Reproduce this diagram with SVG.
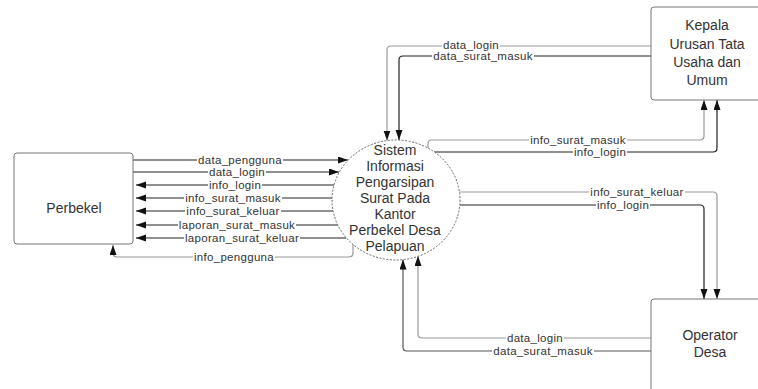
<svg xmlns="http://www.w3.org/2000/svg" width="758" height="389" viewBox="0 0 758 389">
<style>
.box{fill:#fff;stroke:#777;stroke-width:1}
.proc{fill:#fff;stroke:#666;stroke-width:1;stroke-dasharray:2 1.5}
.nt{font-family:"Liberation Sans",Arial,sans-serif;font-size:14px;fill:#333;text-anchor:middle}
.c{fill:none;stroke:#222;stroke-width:1.2}
.g{stroke:#9a9a9a}
.m{stroke:#555}
.bg{fill:#fff}
.lb{font-family:"Liberation Sans",Arial,sans-serif;font-size:11.5px;fill:#333;text-anchor:middle;letter-spacing:0.3px}
</style>
<defs>
<marker id="ah" markerUnits="userSpaceOnUse" markerWidth="10" markerHeight="8" refX="10" refY="3.5" orient="auto">
<path d="M0,0 L10,3.5 L0,7 z" fill="#111"/>
</marker>
</defs>
<rect width="758" height="389" fill="#fff"/>
<g id="connectors">
<path class="c" d="M133,160 L348,160" marker-end="url(#ah)"/>
<path class="c" d="M133,172 L339,172" marker-end="url(#ah)"/>
<path class="c" d="M334,185 L136,185" marker-end="url(#ah)"/>
<path class="c" d="M332,198 L136,198" marker-end="url(#ah)"/>
<path class="c" d="M333,211 L136,211" marker-end="url(#ah)"/>
<path class="c" d="M338,225 L136,225" marker-end="url(#ah)"/>
<path class="c" d="M346,238 L136,238" marker-end="url(#ah)"/>
<path class="c g" d="M353,244 L353,253 Q353,257 349,257 L117,257 Q113,257 113,253 L113,245" marker-end="url(#ah)"/>
<path class="c g" d="M651,46 L391,46 Q387,46 387,50 L387,140.5" marker-end="url(#ah)"/>
<path class="c" d="M651,56 L403,56 Q399,56 399,60 L399,140" marker-end="url(#ah)"/>
<path class="c g" d="M428,148 L428,144 Q428,140 432,140 L700,140 Q704,140 704,136 L704,100" marker-end="url(#ah)"/>
<path class="c" d="M434,152 L713,152 Q717,152 717,148 L717,100" marker-end="url(#ah)"/>
<path class="c g" d="M459,192 L713,192 Q717,192 717,196 L717,299" marker-end="url(#ah)"/>
<path class="c" d="M460,205 L700,205 Q704,205 704,209 L704,299" marker-end="url(#ah)"/>
<path class="c g" d="M651,338 L422,338 Q418,338 418,334 L418,256" marker-end="url(#ah)"/>
<path class="c m" d="M651,351 L407,351 Q403,351 403,347 L403,259.5" marker-end="url(#ah)"/>
<rect class="bg" x="197" y="156" width="86" height="8"/>
<rect class="bg" x="208" y="168" width="58" height="8"/>
<rect class="bg" x="208" y="181" width="54" height="8"/>
<rect class="bg" x="184" y="194" width="98" height="8"/>
<rect class="bg" x="185" y="207" width="96" height="8"/>
<rect class="bg" x="178" y="221" width="118" height="8"/>
<rect class="bg" x="184" y="234" width="116" height="8"/>
<rect class="bg" x="193" y="253" width="82" height="8"/>
<rect class="bg" x="442" y="42" width="58" height="8"/>
<rect class="bg" x="432" y="52" width="102" height="8"/>
<rect class="bg" x="529" y="136" width="98" height="8"/>
<rect class="bg" x="573" y="148" width="54" height="8"/>
<rect class="bg" x="589" y="188" width="96" height="8"/>
<rect class="bg" x="596" y="201" width="54" height="8"/>
<rect class="bg" x="506" y="334" width="58" height="8"/>
<rect class="bg" x="492" y="347" width="102" height="8"/>
<text class="lb" x="240" y="163.5">data_pengguna</text>
<text class="lb" x="237" y="175.5">data_login</text>
<text class="lb" x="235" y="188.5">info_login</text>
<text class="lb" x="233" y="201.5">info_surat_masuk</text>
<text class="lb" x="233" y="214.5">info_surat_keluar</text>
<text class="lb" x="237" y="228.5">laporan_surat_masuk</text>
<text class="lb" x="242" y="241.5">laporan_surat_keluar</text>
<text class="lb" x="234" y="260.5">info_pengguna</text>
<text class="lb" x="471" y="49">data_login</text>
<text class="lb" x="483" y="59.5">data_surat_masuk</text>
<text class="lb" x="578" y="143.5">info_surat_masuk</text>
<text class="lb" x="600" y="155.5">info_login</text>
<text class="lb" x="637" y="195.5">info_surat_keluar</text>
<text class="lb" x="623" y="208.5">info_login</text>
<text class="lb" x="535" y="341.5">data_login</text>
<text class="lb" x="543" y="354.5">data_surat_masuk</text>
</g>
<g id="perbekel">
<rect class="box" x="14" y="153" width="119" height="91" rx="3"/>
<text class="nt" x="74" y="213">Perbekel</text>
</g>
<g id="sistem">
<ellipse class="proc" cx="396" cy="200" rx="64" ry="60"/>
<text class="nt" x="395" y="155">Sistem</text>
<text class="nt" x="395" y="171">Informasi</text>
<text class="nt" x="395" y="187">Pengarsipan</text>
<text class="nt" x="395" y="203">Surat Pada</text>
<text class="nt" x="395" y="219">Kantor</text>
<text class="nt" x="395" y="235">Perbekel Desa</text>
<text class="nt" x="395" y="251">Pelapuan</text>
</g>
<g id="kepala">
<rect class="box" x="651" y="7" width="112" height="93" rx="3"/>
<text class="nt" x="707" y="30">Kepala</text>
<text class="nt" x="707" y="48.5">Urusan Tata</text>
<text class="nt" x="707" y="67">Usaha dan</text>
<text class="nt" x="707" y="85">Umum</text>
</g>
<g id="operator">
<rect class="box" x="651" y="299" width="118" height="100" rx="3"/>
<text class="nt" x="710" y="340">Operator</text>
<text class="nt" x="710" y="357">Desa</text>
</g>
</svg>
